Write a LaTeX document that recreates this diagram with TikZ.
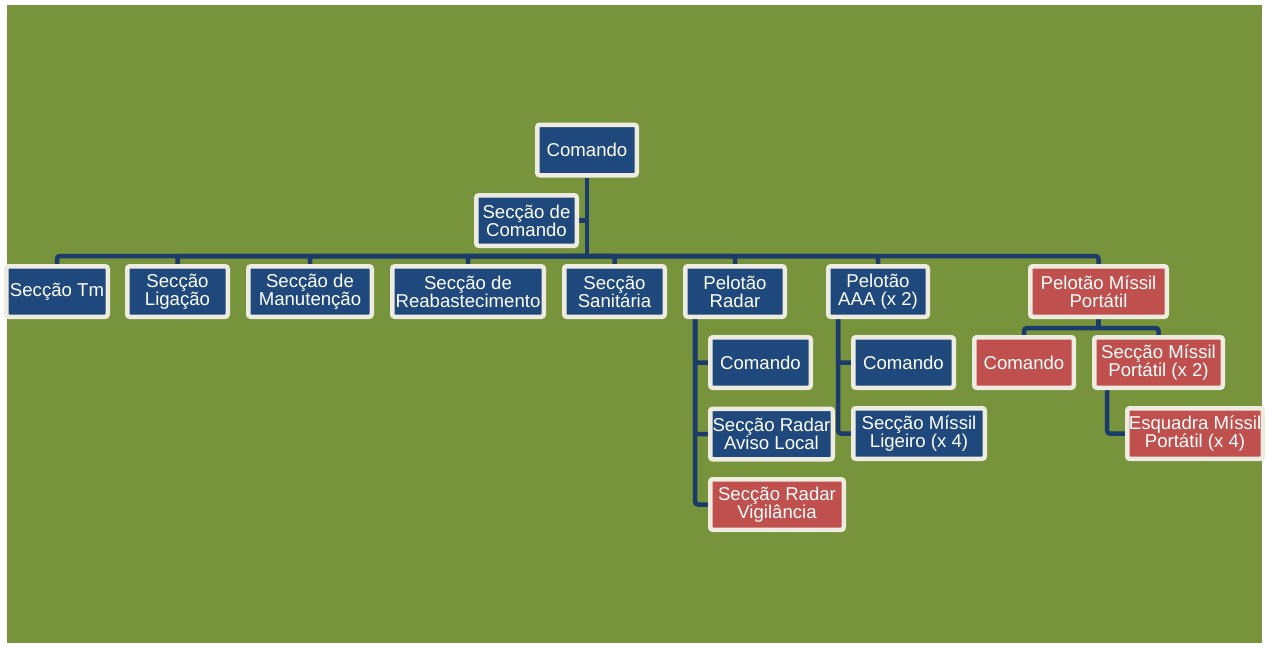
\documentclass[tikz,border=0pt]{standalone}
\usepackage{fontspec}
\setmainfont{Liberation Sans}
\definecolor{field}{HTML}{77933C}
\definecolor{navy}{HTML}{1F497D}
\definecolor{brick}{HTML}{C0504D}
\definecolor{frame}{HTML}{EEECE1}
\definecolor{wire}{HTML}{1B3B6A}
\pgfdeclarelayer{ground}
\pgfdeclarelayer{wires}
\pgfsetlayers{ground,wires,main}
\tikzset{
  unit/.style={draw=frame, line width=4.5pt, rounded corners=2.5pt, text=white,
    align=center, inner sep=0pt, font=\fontsize{18.6}{18}\selectfont,
    minimum width=#1, minimum height=50.5pt},
  bluebox/.style={unit=#1, fill=navy},
  redbox/.style={unit=#1, fill=brick},
  conn/.style={draw=wire, line width=4.5pt, rounded corners=3pt}
}
\begin{document}
\begin{tikzpicture}[x=1pt, y=-1pt]
\useasboundingbox (0,0) rectangle (1266,646);
\begin{pgfonlayer}{ground}
\fill[field] (7,5) rectangle (1262,643);
\end{pgfonlayer}

% headquarters and its staff section
\node[bluebox=99.5pt] (top) at (587,150) {Comando};
\node[bluebox=100.5pt] (hqs) at (526.5,220.5) {Secção de\\Comando};

% first level of sections and platoons
\node[bluebox=101.5pt] (tm) at (57,291.5) {Secção Tm};
\node[bluebox=100.5pt] (lig) at (177.5,291.5) {Secção\\Ligação};
\node[bluebox=123.5pt] (man) at (310,291.5) {Secção de\\Manutenção};
\node[bluebox=151.5pt] (reab) at (468,291.5) {Secção de\\Reabastecimento};
\node[bluebox=100.5pt] (san) at (614.5,291.5) {Secção\\Sanitária};
\node[bluebox=99.5pt] (radar) at (735,291.5) {Pelotão\\Radar};
\node[bluebox=99.5pt] (aaa) at (878,291.5) {Pelotão\\AAA (x 2)};
\node[redbox=136.5pt] (mpp) at (1098.5,291.5) {Pelotão Míssil\\Portátil};

% radar platoon
\node[bluebox=100.5pt] (rcmd) at (760.5,362.5) {Comando};
\node[bluebox=122.5pt] (ral) at (771.5,434) {Secção Radar\\Aviso Local};
\node[redbox=133.5pt] (rvig) at (777,504.5) {Secção Radar\\Vigilância};

% AAA platoon
\node[bluebox=100.5pt] (acmd) at (903.5,362.5) {Comando};
\node[bluebox=131.5pt] (aml) at (919,433.5) {Secção Míssil\\Ligeiro (x 4)};

% portable missile platoon
\node[redbox=99.5pt] (pcmd) at (1024,362.5) {Comando};
\node[redbox=128.5pt] (smp) at (1158.5,362.5) {Secção Míssil\\Portátil (x 2)};
\node[redbox=135.5pt] (esq) at (1195,433.5) {Esquadra Míssil\\Portátil (x 4)};

% connectors, drawn beneath the boxes
\coordinate (bus) at (587,256);
\coordinate (pbus) at (1098.5,328);
\begin{pgfonlayer}{wires}
\draw[conn] (top.south) -- (bus);
\draw[conn] (top.south |- hqs.east) -- (hqs.east);
\foreach \n in {tm,lig,man,reab,san,radar,aaa,mpp}
  \draw[conn] (bus) -| (\n.north);
% radar platoon trunk
\foreach \n in {rcmd,ral,rvig}
  \draw[conn] ([xshift=-40pt]radar.south) |- (\n.west);
% AAA platoon trunk
\foreach \n in {acmd,aml}
  \draw[conn] ([xshift=-40pt]aaa.south) |- (\n.west);
% portable missile platoon
\draw[conn] (mpp.south) -- (pbus);
\draw[conn] (pbus) -| (pcmd.north);
\draw[conn] (pbus) -| (smp.north);
\draw[conn] ([xshift=-51.5pt]smp.south) |- (esq.west);
\end{pgfonlayer}
\end{tikzpicture}
\end{document}
